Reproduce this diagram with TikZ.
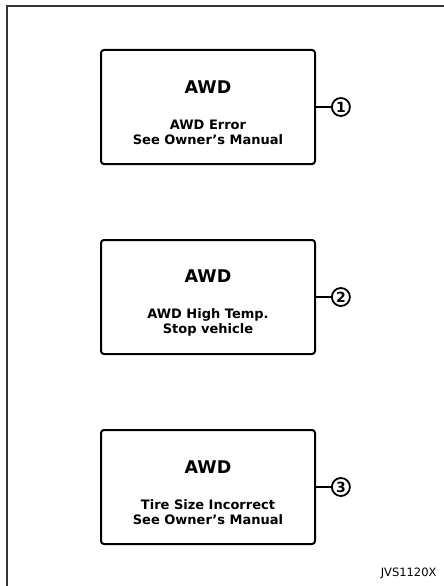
\documentclass[tikz,border=0pt]{standalone}
\usepackage{fontspec}
\setmainfont{DejaVu Sans}
\usetikzlibrary{positioning}

\newcommand{\awdhead}{\rule{0pt}{24pt}{\fontsize{17.5}{17.5}\selectfont AWD}}

\begin{document}
\begin{tikzpicture}[x=1pt, y=-1pt,
    node distance=74pt and 15pt,
    msgbox/.style={rectangle, rounded corners=3pt, draw=black, line width=2pt, minimum width=214pt, minimum height=114pt, align=center, font=\fontsize{13}{15}\selectfont\bfseries},
    num/.style={circle, draw=black, line width=1.8pt, inner sep=0pt, minimum size=18pt, font=\fontsize{14}{14}\selectfont\bfseries},
    link/.style={line width=1.4pt},
    frame/.style={line width=2pt, draw=black!80}
]
    \useasboundingbox (0,0) rectangle (444,586);
    \draw[frame] (450,6.5) -- (6.5,6.5) -- (6.5,592);

    \node[msgbox] (err) at (208,107) {\awdhead\\[21pt]AWD Error\\See Owner's Manual};
    \node[msgbox, below=of err] (temp) {\awdhead\\[21pt]AWD High Temp.\\Stop vehicle};
    \node[msgbox, below=of temp] (tire) {\awdhead\\[21pt]Tire Size Incorrect\\See Owner's Manual};

    \node[num, right=of err] (n1) {1};
    \node[num, right=of temp] (n2) {2};
    \node[num, right=of tire] (n3) {3};

    \draw[link] (err) -- (n1);
    \draw[link] (temp) -- (n2);
    \draw[link] (tire) -- (n3);

    \node[anchor=east, font=\fontsize{11.5}{11.5}\selectfont] (code) at (440,573) {JVS1120X};
\end{tikzpicture}
\end{document}
